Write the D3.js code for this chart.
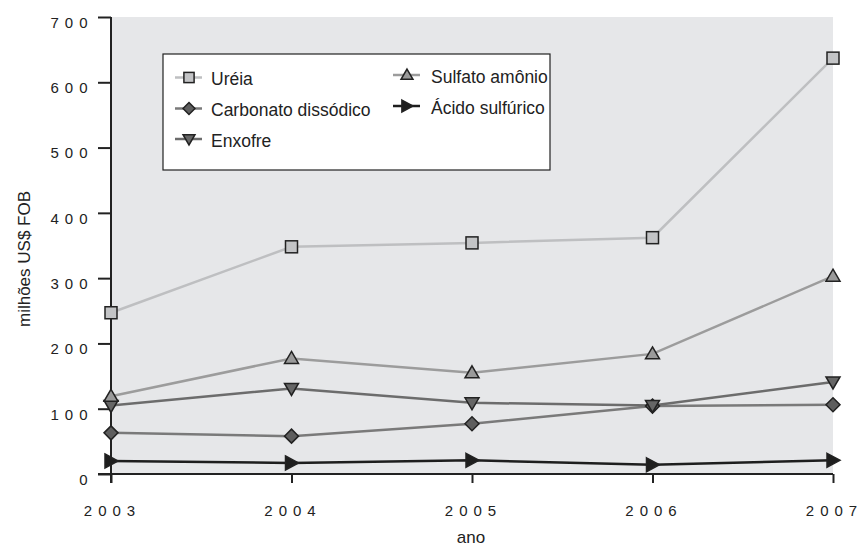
<!DOCTYPE html>
<meta charset="utf-8">
<script src="https://d3js.org/d3.v7.min.js"></script>
<style>
body { margin: 0; background: #fff; }
text { fill: #222; }
.tick text { font: 15px "Liberation Sans", Arial, sans-serif; word-spacing: 1.8px; }
.lbl { font: 17px "Liberation Sans", Arial, sans-serif; }
</style>
<body>
<script>

// data
var anos = [2003, 2004, 2005, 2006, 2007];
var ureia = [247, 348, 354, 362, 637];
var sulfato = [119, 177, 155, 184, 303];
var enxofre = [105, 131, 109, 105, 141];
var carbonato = [63, 58, 77, 104, 106];
var acido = [20, 17, 21, 14, 21];
var yTicks = [0, 100, 200, 300, 400, 500, 600, 700];

var series = [
  {name: "Uréia", values: ureia, line: "#bebfc1", fill: "#c3c4c6", sym: "square"},
  {name: "Sulfato amônio", values: sulfato, line: "#9c9c9c", fill: "#9a9a9a", sym: "up"},
  {name: "Enxofre", values: enxofre, line: "#6c6c6c", fill: "#666", sym: "down"},
  {name: "Carbonato dissódico", values: carbonato, line: "#7a7a7a", fill: "#5e5e5e", sym: "diamond"},
  {name: "Ácido sulfúrico", values: acido, line: "#1e1e1e", fill: "#1e1e1e", sym: "right"}
];

var width = 859, height = 546;
var margin = {top: 17, right: 26, bottom: 72, left: 111};

var svg = d3.select("body").append("svg")
    .attr("width", width)
    .attr("height", height);

var x = d3.scaleLinear()
    .domain([2003, 2007])
    .range([margin.left, width - margin.right]);

var y = d3.scaleLinear()
    .domain([0, 700])
    .range([height - margin.bottom, margin.top]);

// digits are printed spaced out, like "2 0 0 7"
function spaced(d) { return String(d).split("").join(" "); }

// plot background
svg.append("rect")
    .attr("x", x(2003))
    .attr("y", y(700))
    .attr("width", x(2007) - x(2003))
    .attr("height", y(0) - y(700))
    .attr("fill", "#e6e7e9");

// axes
var yAxis = svg.append("g")
    .attr("transform", "translate(" + x(2003) + ",0)")
    .call(d3.axisLeft(y).tickValues(yTicks).tickFormat(spaced).tickSize(13).tickPadding(10.5));
yAxis.select(".domain").attr("d", "M0," + y(700) + "V" + (y(0) + 9));
yAxis.selectAll(".tick text").attr("dy", "0.69em");

var xAxis = svg.append("g")
    .attr("transform", "translate(0," + y(0) + ")")
    .call(d3.axisBottom(x).tickValues(anos).tickFormat(spaced).tickSize(9).tickPadding(22));
xAxis.select(".domain").attr("d", "M" + (x(2003) - 13) + ",0H" + x(2007));
xAxis.selectAll(".tick text").attr("dx", -2);

svg.selectAll(".domain, .tick line").attr("stroke", "#222").attr("stroke-width", 2);
svg.selectAll(".tick text").attr("fill", "#222");

// axis titles
svg.append("text")
    .attr("class", "lbl")
    .attr("x", 471)
    .attr("y", 543)
    .attr("text-anchor", "middle")
    .text("ano");

svg.append("text")
    .attr("class", "lbl")
    .attr("transform", "translate(30,259) rotate(-90)")
    .attr("text-anchor", "middle")
    .text("milhões US$ FOB");

// marker shapes
function marker(sel, sym, r) {
  r = r || 1;
  var p;
  if (sym == "square") {
    sel.append("rect").attr("x", -6 * r).attr("y", -6 * r).attr("width", 12 * r).attr("height", 12 * r);
    return;
  } else if (sym == "diamond") {
    p = [[0, -7], [7, 0], [0, 7], [-7, 0]];
  } else if (sym == "up") {
    p = [[0, -7], [7, 5], [-7, 5]];
  } else if (sym == "down") {
    p = [[-7, -5], [7, -5], [0, 7]];
  } else {
    p = [[-6, -7], [7, 0], [-6, 7]];
  }
  sel.append("path").attr("d", "M" + p.map(function(q) { return (q[0] * r) + "," + (q[1] * r); }).join("L") + "Z");
}

var line = d3.line()
    .x(function(d, i) { return x(anos[i]); })
    .y(function(d) { return y(d); });

// lines first, then markers on top
var order = [3, 4, 2, 1, 0];
order.forEach(function(k) {
  var s = series[k];
  svg.append("path")
      .attr("d", line(s.values))
      .attr("fill", "none")
      .attr("stroke", s.line)
      .attr("stroke-width", 2.5);
});
order.forEach(function(k) {
  var s = series[k];
  s.values.forEach(function(v, i) {
    var g = svg.append("g")
        .attr("transform", "translate(" + x(anos[i]) + "," + y(v) + ")")
        .attr("fill", s.fill)
        .attr("stroke", "#222")
        .attr("stroke-width", 1.5);
    marker(g, s.sym);
  });
});

// legend
svg.append("rect")
    .attr("x", 163)
    .attr("y", 54)
    .attr("width", 387)
    .attr("height", 116)
    .attr("fill", "#fff")
    .attr("stroke", "#222")
    .attr("stroke-width", 1.2);

var legendPos = [
  {k: 0, x: 189, y: 77.5, tx: 211},
  {k: 3, x: 189, y: 108.5, tx: 211},
  {k: 2, x: 189, y: 139, tx: 211},
  {k: 1, x: 407, y: 75, tx: 431},
  {k: 4, x: 407, y: 106, tx: 431}
];

legendPos.forEach(function(p) {
  var s = series[p.k];
  svg.append("line")
      .attr("x1", p.x - 14).attr("x2", p.x + 13)
      .attr("y1", p.y).attr("y2", p.y)
      .attr("stroke", s.line)
      .attr("stroke-width", 2.5);
  var g = svg.append("g")
      .attr("transform", "translate(" + p.x + "," + p.y + ")")
      .attr("fill", s.fill)
      .attr("stroke", "#222")
      .attr("stroke-width", 1.5);
  marker(g, s.sym, 0.85);
  svg.append("text")
      .attr("class", "lbl")
      .attr("x", p.tx)
      .attr("y", p.y + 7.5)
      .style("font-size", "17.5px")
      .text(s.name);
});

</script>
</body>
